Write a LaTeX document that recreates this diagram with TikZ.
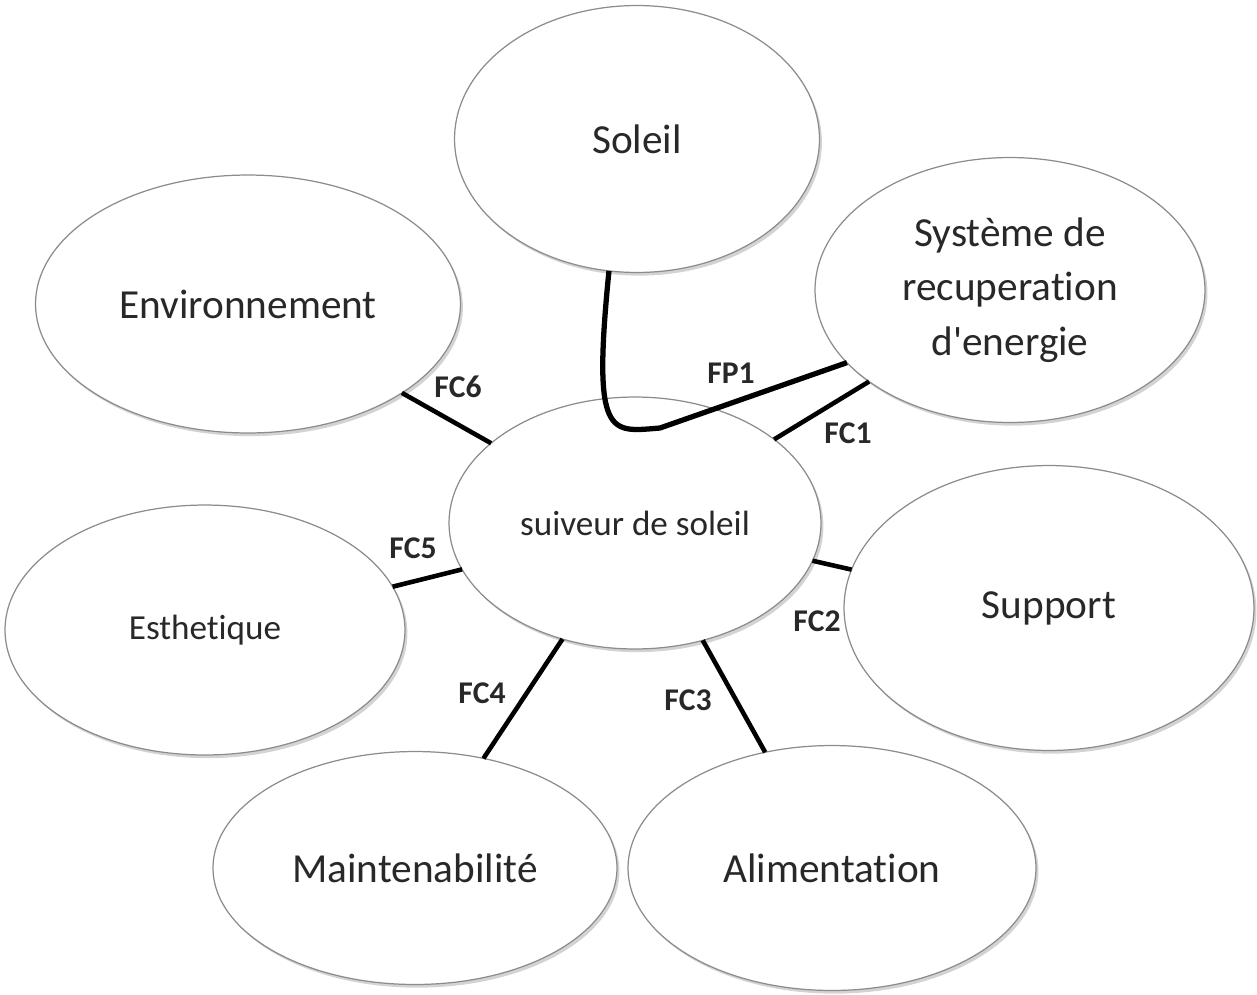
\documentclass[tikz,border=0pt]{standalone}
\usepackage{fontspec}
\setmainfont{Carlito}[Ligatures=NoCommon]
\usepackage{tikz}
\usetikzlibrary{shapes,shadows}
\definecolor{rimgray}{RGB}{140,140,140}
\definecolor{textgray}{RGB}{40,40,40}

\begin{document}
\begin{tikzpicture}[x=0.02cm, y=-0.02cm,
    bubble/.style={ellipse, draw=rimgray, line width=0.7pt, fill=white,
        text=textgray, inner sep=0pt, outer sep=0pt, align=center,
        font=\fontsize{23.5}{31}\selectfont,
        drop shadow={shadow xshift=1.4pt, shadow yshift=-1.8pt, opacity=0.35}},
    link/.style={line width=2.6pt, black},
    fclabel/.style={font=\bfseries\fontsize{18}{20}\selectfont, text=textgray}]
    \useasboundingbox (0,0) rectangle (1257,994);

    % External elements around the tracker
    \node[bubble, minimum width=7.3cm, minimum height=5.34cm] (soleil) at (637,139) {Soleil};
    \node[bubble, minimum width=7.8cm, minimum height=5.3cm] (systeme) at (1010,290) {Système de\\recuperation\\d\textquotesingle energie};
    \node[bubble, minimum width=8.5cm, minimum height=5.16cm] (environnement) at (248,304) {Environnement};
    \node[bubble, minimum width=8.2cm, minimum height=5.7cm] (support) at (1049,608) {Support};
    \node[bubble, minimum width=8cm, minimum height=5cm, font=\fontsize{20}{24}\selectfont] (esthetique) at (205,630) {Esthetique};
    \node[bubble, minimum width=8.08cm, minimum height=4.66cm] (maintenabilite) at (415,868) {Maintenabilité};
    \node[bubble, minimum width=8.16cm, minimum height=4.9cm] (alimentation) at (832,868) {Alimentation};

    % The product
    \node[bubble, minimum width=7.44cm, minimum height=5.04cm, font=\fontsize{20}{24}\selectfont] (suiveur) at (635,523) {suiveur de soleil};

    % Principal function
    \coordinate (fpbend) at (660,428);
    \draw[link, line width=3pt] (soleil.-102) .. controls (592,440) and (610,432) .. (fpbend) -- (systeme.-156);

    % Constraint functions
    \draw[link] (suiveur.31) -- (systeme.213);
    \draw[link] (suiveur.-12) -- (support.169);
    \draw[link] (suiveur.-60) -- (alimentation.120);
    \draw[link] (suiveur.238) -- (maintenabilite.58);
    \draw[link] (esthetique.13) -- (suiveur.195);
    \draw[link] (environnement.-30) -- (suiveur.151);

    % Labels
    \node[fclabel] (lfp1) at (731,373) {FP1};
    \node[fclabel] (lfc1) at (848,433) {FC1};
    \node[fclabel] (lfc2) at (817,621) {FC2};
    \node[fclabel] (lfc3) at (688,700) {FC3};
    \node[fclabel] (lfc4) at (482,693) {FC4};
    \node[fclabel] (lfc5) at (413,548) {FC5};
    \node[fclabel] (lfc6) at (458,387) {FC6};
\end{tikzpicture}
\end{document}
